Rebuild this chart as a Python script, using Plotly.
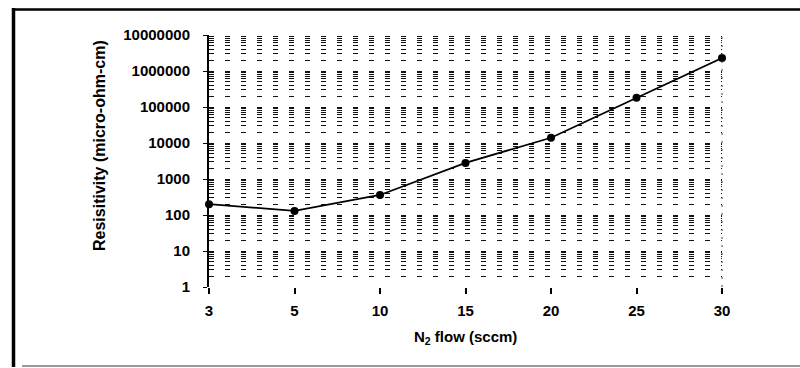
import plotly.graph_objects as go

# ---- data ----
n2_flow = ["3", "5", "10", "15", "20", "25", "30"]
resistivity = [200, 130, 360, 2800, 14000, 180000, 2300000]
y_tick_vals = [1, 10, 100, 1000, 10000, 100000, 1000000, 10000000]
y_tick_text = ["1", "10", "100", "1000", "10000", "100000", "1000000", "10000000"]

W, H = 800, 368
L, R, T, B = 209, 722, 35, 287  # plot area in pixels


def px(x):
    return (x - L) / (R - L)


def py(y):
    return (B - y) / (B - T)


FONT = "Arial, Liberation Sans, sans-serif"

fig = go.Figure()
fig.add_trace(go.Scatter(
    x=n2_flow, y=resistivity, mode="lines+markers",
    line=dict(color="black", width=1.8),
    marker=dict(color="black", size=8, symbol="circle"),
    showlegend=False, cliponaxis=False,
))

fig.update_layout(
    width=W, height=H,
    margin=dict(l=L, r=W - R, t=T, b=H - B, pad=0),
    paper_bgcolor="white", plot_bgcolor="white",
    font=dict(family=FONT, color="black", size=15),
    xaxis=dict(
        type="category", range=[0, 6],
        showgrid=False, zeroline=False, showline=False,
        ticks="outside", ticklen=6, tickwidth=1.5, tickcolor="black",
        tickfont=dict(family=FONT, size=15, weight="bold"),
        ticklabelstandoff=4,
    ),
    yaxis=dict(
        type="log", range=[0, 7],
        tickmode="array", tickvals=y_tick_vals, ticktext=y_tick_text,
        showline=True, linecolor="black", linewidth=2,
        ticks="outside", ticklen=4, tickcolor="black",
        tickfont=dict(family=FONT, size=15, weight="bold"),
        ticklabelstandoff=10,
        showgrid=True, gridcolor="#111", gridwidth=1.3, griddash="5px,11px",
        zeroline=False,
        minor=dict(dtick="D1", showgrid=True, gridcolor="#111", gridwidth=1.3,
                   griddash="5px,11px", ticks=""),
    ),
    shapes=[
        # outer frame (scanned figure border)
        dict(type="line", xref="paper", yref="paper",
             x0=px(13.5), x1=px(13.5), y0=py(8), y1=py(367),
             line=dict(color="black", width=3.5)),
        dict(type="line", xref="paper", yref="paper",
             x0=px(12), x1=px(800), y0=py(9.5), y1=py(9.5),
             line=dict(color="black", width=2.5)),
        dict(type="line", xref="paper", yref="paper",
             x0=px(22), x1=px(800), y0=py(366), y1=py(366),
             line=dict(color="#9a9a9a", width=2)),
        # dotted right edge of plot area
        dict(type="line", xref="paper", yref="paper",
             x0=1, x1=1, y0=0, y1=1,
             line=dict(color="#444", width=1, dash="2px,6px")),
    ],
    annotations=[
        dict(text="<b>Resisitivity (micro-ohm-cm)</b>", textangle=-90,
             xref="paper", yref="paper", x=px(99), y=py(146),
             xanchor="center", yanchor="middle", showarrow=False,
             font=dict(family=FONT, size=16, color="black")),
        dict(text="<b>N<sub>2</sub> flow (sccm)</b>",
             xref="paper", yref="paper", x=px(465), y=py(337),
             xanchor="center", yanchor="middle", showarrow=False,
             font=dict(family=FONT, size=15, color="black")),
    ],
)

fig.write_html("out.html")
